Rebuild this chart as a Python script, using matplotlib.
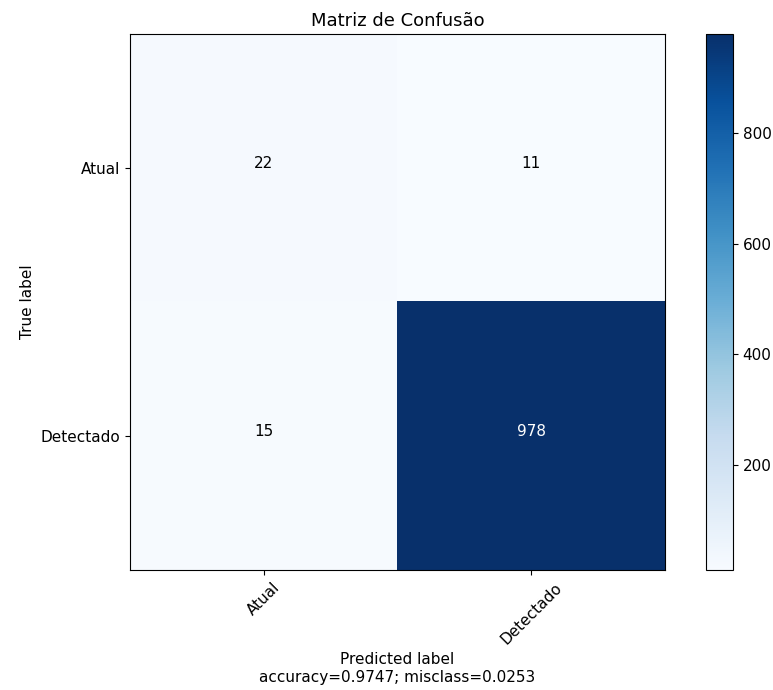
import numpy as np
import matplotlib
matplotlib.use("Agg")
import matplotlib.pyplot as plt

target_names = ["Atual", "Detectado"]
cm = np.array([[22, 11],
               [15, 978]])
title = "Matriz de Confusão"

accuracy = np.trace(cm) / float(np.sum(cm))
misclass = 1 - accuracy

plt.rcParams["font.size"] = 11

fig = plt.figure(figsize=(7.73, 6.9), dpi=100)
ax = fig.add_axes([130/773, 120/690, 535/773, 536/690])
cax = fig.add_axes([706/773, 120/690, 27/773, 536/690])

im = ax.imshow(cm, interpolation="nearest", cmap=plt.get_cmap("Blues"), aspect="auto")
ax.set_title(title, fontsize=13)
cb = fig.colorbar(im, cax=cax)
cb.set_ticks([200, 400, 600, 800])

ticks = np.arange(len(target_names))
ax.set_xticks(ticks)
ax.set_xticklabels(target_names, rotation=45)
ax.set_yticks(ticks)
ax.set_yticklabels(target_names)

thresh = cm.max() / 2
for i in range(cm.shape[0]):
    for j in range(cm.shape[1]):
        ax.text(j, i, "{:,}".format(cm[i, j]), horizontalalignment="center",
                color="white" if cm[i, j] > thresh else "black")

ax.set_ylabel("True label")
ax.set_xlabel("Predicted label\naccuracy={:0.4f}; misclass={:0.4f}".format(accuracy, misclass))

fig.savefig("out.png", dpi=100)
